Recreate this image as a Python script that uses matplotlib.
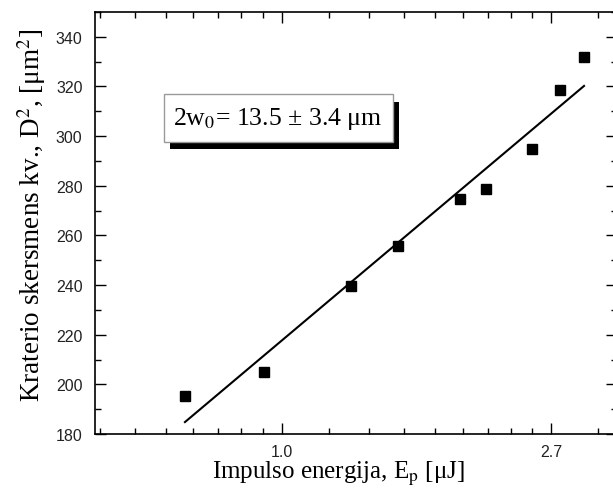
import numpy as np
import matplotlib
matplotlib.use("Agg")
import matplotlib.pyplot as plt
from matplotlib.ticker import FixedLocator, NullFormatter, FixedFormatter, MultipleLocator
from matplotlib.patches import Rectangle

# Data
energy_uJ = [0.697, 0.935, 1.292, 1.539, 1.938, 2.135, 2.533, 2.81, 3.07]
d2_um2 = [195.3, 205.0, 239.7, 255.8, 274.8, 278.8, 294.9, 318.7, 332.0]
x_major_ticks = [1.0, np.e]
x_major_labels = ["1.0", "2.7"]
annotation = "2w$_0$= 13.5 ± 3.4 μm"

plt.rcParams['mathtext.fontset'] = 'stix'

fig = plt.figure(figsize=(6.13, 4.89), dpi=100)
ax = fig.add_axes([95/613, 54/489, (617-95)/613, (435-13)/489])

ax.set_xscale('log', base=np.e)
ax.set_xlim(0.499, 3.47)
ax.set_ylim(180, 350)

x = np.array(energy_uJ)
y = np.array(d2_um2)
ax.plot(x, y, 's', color='black', ms=6.8, zorder=3)

# linear fit in ln(E)
b, a = np.polyfit(np.log(x), y, 1)
xf = np.array([x[0], x[-1]])
ax.plot(xf, a + b*np.log(xf), color='black', lw=1.5)

# ticks
ax.xaxis.set_major_locator(FixedLocator(x_major_ticks))
ax.xaxis.set_major_formatter(FixedFormatter(x_major_labels))
minor = []
for k in (-1, 0, 1):
    lo, hi = np.e**k, np.e**(k+1)
    for j in range(1, 9):
        minor.append(lo + j*(hi-lo)/9)
ax.xaxis.set_minor_locator(FixedLocator(minor))
ax.xaxis.set_minor_formatter(NullFormatter())
ax.yaxis.set_major_locator(FixedLocator(list(range(180, 341, 20))))
ax.yaxis.set_minor_locator(MultipleLocator(10))

ax.tick_params(which='both', direction='in', top=True, right=True, width=1.0,
               labelsize=11.5)
ax.tick_params(which='major', length=8)
ax.tick_params(which='minor', length=4)
ax.tick_params(axis='y', which='major', pad=9)
ax.tick_params(axis='x', which='major', pad=7)
for lab in ax.get_xticklabels() + ax.get_yticklabels():
    lab.set_family('Liberation Sans')
    lab.set_color('#222222')
for s in ax.spines.values():
    s.set_linewidth(1.2)

serif = 'Liberation Serif'
ax.set_xlabel("Impulso energija, E$_\\mathrm{p}$ [μJ]", family=serif, fontsize=18)
ax.xaxis.set_label_coords(0.467, -0.058)
ax.set_ylabel("Kraterio skersmens kv., D$^2$, [μm$^2$]", family=serif, fontsize=19.5)
ax.yaxis.set_label_coords(-0.09, 0.521)

# annotation box with shadow (in figure pixel coords)
def fx(px): return px/613
def fy(py): return 1 - py/489
shadow = Rectangle((fx(170), fy(150)), fx(399)-fx(170), fy(103)-fy(150),
                   transform=fig.transFigure, facecolor='black', edgecolor='none', zorder=4)
box = Rectangle((fx(164), fy(143)), fx(393)-fx(164), fy(95)-fy(143),
                transform=fig.transFigure, facecolor='white', edgecolor='#999999', lw=1, zorder=5)
fig.add_artist(shadow)
fig.add_artist(box)
fig.text(fx(278), fy(119), annotation, family=serif, fontsize=18.5, ha='center', va='center', zorder=6)

fig.savefig("out.png", dpi=100)
